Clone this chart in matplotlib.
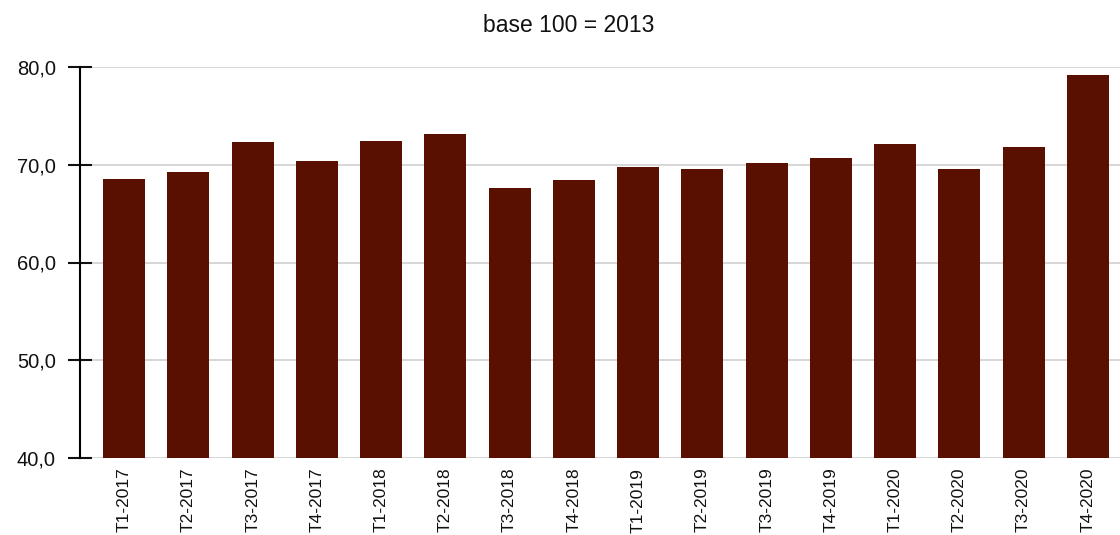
from matplotlib import pyplot as plt
import numpy as np

# indice trimestriel, base 100 = 2013
trimestres = ['T1-2017', 'T2-2017', 'T3-2017', 'T4-2017',
              'T1-2018', 'T2-2018', 'T3-2018', 'T4-2018',
              'T1-2019', 'T2-2019', 'T3-2019', 'T4-2019',
              'T1-2020', 'T2-2020', 'T3-2020', 'T4-2020']
indice = [68.5, 69.3, 72.3, 70.4,
          72.4, 73.1, 67.6, 68.4,
          69.8, 69.6, 70.2, 70.7,
          72.1, 69.6, 71.8, 79.2]
y_ticks = [40, 50, 60, 70, 80]

plt.rcParams['font.family'] = ['Liberation Sans', 'DejaVu Sans']

fig = plt.figure(figsize=(11.2, 5.35), dpi=100)
ax = fig.add_axes([92 / 1120, 1 - 458 / 535, 1 - 92 / 1120, (458 - 67) / 535])

x = np.arange(len(trimestres))
ax.bar(x, indice, width=0.65, color='#5a1000', zorder=3)

ax.set_xlim(-0.5, len(trimestres) - 0.5)
ax.set_ylim(40, 80)
ax.set_yticks(y_ticks)
ax.set_yticklabels([f'{v:.1f}'.replace('.', ',') for v in y_ticks])
ax.set_xticks(x)
ax.set_xticklabels(trimestres, rotation=90)

ax.yaxis.grid(True, color='#d0d0d0', linewidth=1.2, zorder=0)
for side in ['top', 'right', 'bottom']:
    ax.spines[side].set_visible(False)
ax.spines['left'].set_position(('outward', 8.6))
ax.spines['left'].set_linewidth(1.5)

ax.tick_params(axis='y', direction='inout', length=17, width=1.5,
               pad=9, labelsize=14.5, colors='#111111')
ax.tick_params(axis='x', length=0, pad=7, labelsize=12.5, colors='#111111')

fig.text(569 / 1120, 1 - 25 / 535, 'base 100 = 2013', ha='center', va='center',
         fontsize=16.5, color='#111111')

fig.savefig('out.png', dpi=100)
